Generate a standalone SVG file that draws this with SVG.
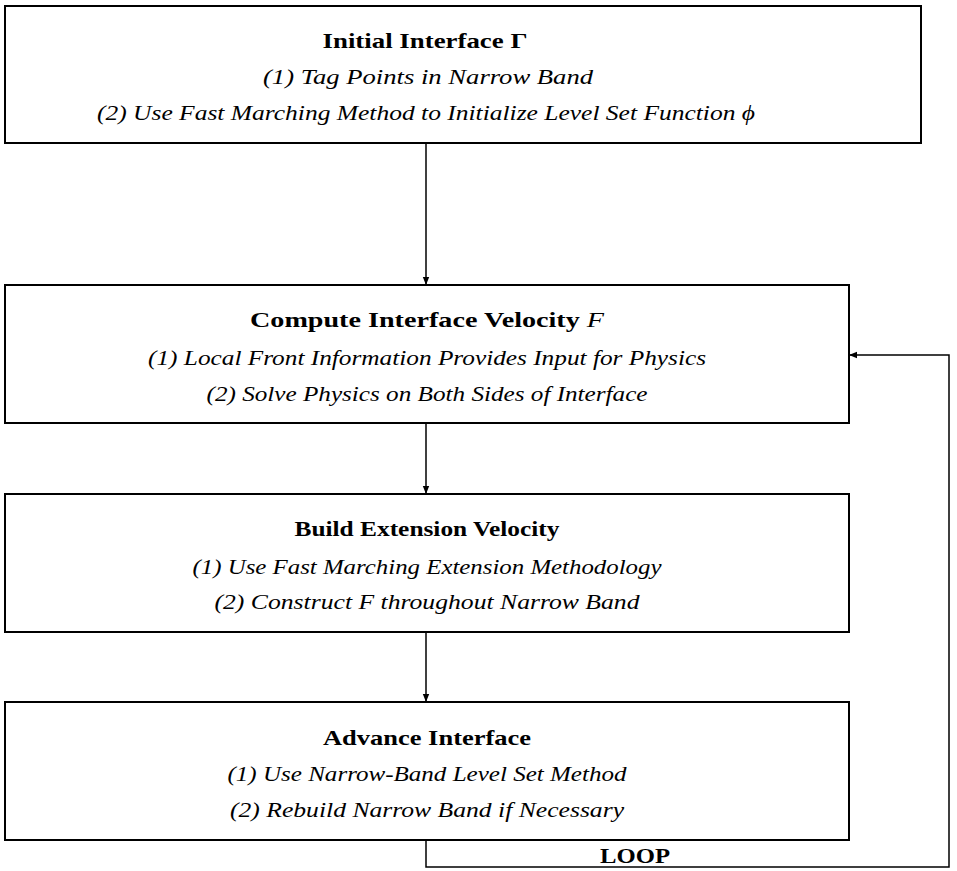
<svg xmlns="http://www.w3.org/2000/svg" width="957" height="871" viewBox="0 0 957 871">
<defs>
<marker id="ah" viewBox="0 0 10 10" refX="10" refY="5" markerWidth="8" markerHeight="8" markerUnits="userSpaceOnUse" orient="auto">
<path d="M0,1 L10,5 L0,9 Z" fill="#000"/>
</marker>
<style>
.box{fill:#fff;stroke:#000;stroke-width:2}
.t{font-family:"Liberation Serif",serif;font-weight:bold;font-size:21px;text-anchor:middle}
.s{font-family:"Liberation Serif",serif;font-style:italic;font-size:21px;text-anchor:middle}
.c{fill:none;stroke:#000;stroke-width:1.5}
</style>
</defs>
<rect width="957" height="871" fill="#fff"/>
<g id="connectors">
<path class="c" d="M426,143 V285" marker-end="url(#ah)"/>
<path class="c" d="M426,423 V494" marker-end="url(#ah)"/>
<path class="c" d="M426,632 V702" marker-end="url(#ah)"/>
<path class="c" d="M426,840 V867 H949 V355 H849" marker-end="url(#ah)"/>
<text class="t" x="635" y="863" textLength="70" lengthAdjust="spacingAndGlyphs">LOOP</text>
</g>
<g id="n1">
<rect class="box" x="5" y="6" width="916" height="137"/>
<text class="t" x="425" y="48" textLength="205" lengthAdjust="spacingAndGlyphs">Initial Interface Γ</text>
<text class="s" x="428" y="84" textLength="330" lengthAdjust="spacingAndGlyphs">(1) Tag Points in Narrow Band</text>
<text class="s" x="426" y="120" textLength="658" lengthAdjust="spacingAndGlyphs">(2) Use Fast Marching Method to Initialize Level Set Function ϕ</text>
</g>
<g id="n2">
<rect class="box" x="5" y="285" width="844" height="138"/>
<text class="t" x="427" y="327" textLength="354" lengthAdjust="spacingAndGlyphs">Compute Interface Velocity <tspan font-weight="normal" font-style="italic">F</tspan></text>
<text class="s" x="427" y="365" textLength="558" lengthAdjust="spacingAndGlyphs">(1) Local Front Information Provides Input for Physics</text>
<text class="s" x="427" y="401" textLength="441" lengthAdjust="spacingAndGlyphs">(2) Solve Physics on Both Sides of Interface</text>
</g>
<g id="n3">
<rect class="box" x="5" y="494" width="844" height="138"/>
<text class="t" x="427" y="536" textLength="265" lengthAdjust="spacingAndGlyphs">Build Extension Velocity</text>
<text class="s" x="427" y="574" textLength="469" lengthAdjust="spacingAndGlyphs">(1) Use Fast Marching Extension Methodology</text>
<text class="s" x="427" y="609" textLength="425" lengthAdjust="spacingAndGlyphs">(2) Construct F throughout Narrow Band</text>
</g>
<g id="n4">
<rect class="box" x="5" y="702" width="844" height="138"/>
<text class="t" x="427" y="745" textLength="208" lengthAdjust="spacingAndGlyphs">Advance Interface</text>
<text class="s" x="427" y="781" textLength="399" lengthAdjust="spacingAndGlyphs">(1) Use Narrow-Band Level Set Method</text>
<text class="s" x="427" y="817" textLength="394" lengthAdjust="spacingAndGlyphs">(2) Rebuild Narrow Band if Necessary</text>
</g>
</svg>
